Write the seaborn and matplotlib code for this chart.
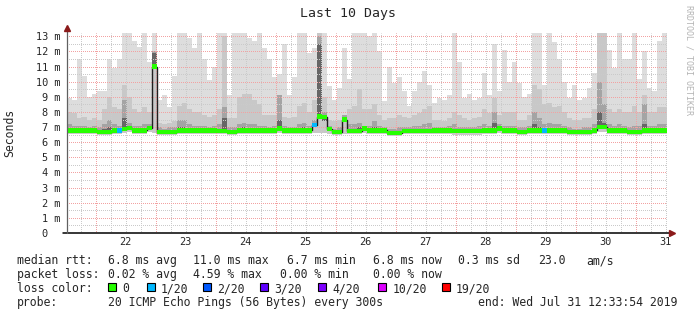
import numpy as np
import pandas as pd
import matplotlib
matplotlib.use("Agg")
import matplotlib.pyplot as plt
from matplotlib.ticker import MultipleLocator
from matplotlib.patches import Rectangle
import seaborn as sns

# ---------------- data (2-hour bins) ----------------
end_time = "2019-07-31 12:33:54"
span_days = 10

ping_max = [
    8.9, 8.8, 11.5, 10.4, 9.0, 9.2, 9.4, 9.4, 11.5, 10.9,
    11.5, 13.2, 13.2, 12.7, 12.3, 13.2, 11.3, 13.2, 8.8, 9.1,
    8.3, 10.4, 13.2, 13.2, 12.9, 12.2, 13.2, 11.5, 10.1, 11.0,
    13.2, 13.2, 9.1, 13.2, 13.2, 13.2, 12.9, 12.7, 13.2, 12.2,
    11.5, 10.3, 10.5, 12.5, 9.1, 10.3, 13.2, 13.2, 11.9, 12.2,
    13.2, 13.2, 9.7, 8.8, 9.6, 12.2, 10.2, 13.2, 13.2, 13.2,
    13.0, 13.2, 12.0, 8.7, 11.0, 9.9, 10.3, 9.4, 8.4, 9.4,
    10.0, 10.7, 9.8, 8.6, 8.9, 8.8, 9.1, 13.2, 11.3, 8.9,
    9.2, 8.8, 8.9, 10.6, 9.1, 12.5, 9.4, 12.1, 10.0, 11.3,
    9.9, 9.0, 9.2, 13.2, 13.2, 9.8, 13.2, 12.6, 11.5, 10.0,
    8.9, 9.8, 8.8, 8.9, 9.6, 10.6, 13.2, 13.2, 12.1, 10.9,
    13.2, 11.5, 11.5, 13.2, 10.2, 12.0, 9.6, 9.4, 12.7, 13.2,
]

ping_p90 = [
    8.0, 7.9, 7.6, 7.7, 7.5, 7.6, 7.5, 8.2, 9.0, 8.3,
    8.2, 9.8, 9.0, 8.2, 8.0, 8.3, 8.0, 12.0, 7.3, 7.2,
    7.3, 7.4, 8.4, 8.6, 8.2, 8.0, 8.0, 7.8, 7.7, 7.8,
    8.2, 13.0, 7.6, 7.6, 9.0, 9.2, 9.2, 8.8, 8.5, 7.8,
    7.8, 7.8, 9.1, 7.7, 7.6, 7.7, 8.4, 8.6, 8.0, 8.8,
    13.2, 9.0, 7.5, 7.4, 7.5, 7.8, 8.2, 8.4, 9.5, 8.2,
    8.2, 8.5, 7.8, 7.5, 7.6, 7.6, 7.8, 7.7, 7.6, 7.8,
    7.9, 8.2, 8.4, 7.5, 7.5, 7.4, 7.6, 8.0, 7.8, 7.6,
    7.5, 7.6, 7.7, 8.2, 7.9, 8.9, 7.8, 8.0, 8.0, 8.0,
    7.5, 7.5, 7.8, 9.8, 9.5, 8.5, 8.6, 8.3, 8.4, 8.0,
    7.6, 7.5, 7.5, 7.6, 7.6, 8.2, 13.2, 13.2, 8.2, 8.0,
    8.2, 8.0, 8.0, 8.4, 8.0, 9.1, 8.0, 8.0, 8.3, 8.3,
]

ping_p75 = [
    7.2, 7.1, 7.1, 7.1, 7.0, 7.1, 7.0, 7.2, 7.5, 7.2,
    7.1, 8.8, 7.3, 7.1, 7.1, 7.2, 7.2, 12.0, 7.0, 6.9,
    7.0, 7.0, 7.5, 7.5, 7.2, 7.1, 7.1, 7.1, 7.0, 7.1,
    7.2, 8.3, 7.0, 7.0, 7.2, 7.3, 7.2, 7.2, 7.1, 7.1,
    7.0, 7.1, 9.1, 7.1, 7.0, 7.0, 7.2, 7.3, 7.1, 7.5,
    13.0, 8.0, 7.1, 6.9, 7.0, 7.8, 7.2, 7.2, 7.3, 7.1,
    7.1, 7.4, 7.1, 7.0, 6.9, 6.9, 7.0, 7.0, 7.0, 7.1,
    7.1, 7.2, 7.3, 7.0, 7.0, 7.0, 7.1, 7.2, 7.0, 7.0,
    7.0, 7.0, 7.1, 7.2, 7.1, 8.0, 7.2, 7.1, 7.1, 7.1,
    7.0, 7.0, 7.1, 8.0, 7.6, 7.2, 7.3, 7.2, 7.2, 7.1,
    7.0, 6.9, 6.9, 7.0, 7.0, 7.2, 10.0, 8.5, 7.2, 7.1,
    7.2, 7.1, 7.0, 7.1, 7.1, 8.5, 7.1, 7.1, 7.2, 7.2,
]

ping_p60 = [
    6.9, 6.9, 6.9, 6.9, 6.9, 6.9, 6.8, 6.9, 7.0, 6.9,
    6.9, 7.6, 7.0, 6.9, 6.9, 6.9, 7.0, 11.9, 6.8, 6.8,
    6.8, 6.8, 7.0, 7.0, 6.9, 6.9, 6.9, 6.9, 6.9, 6.9,
    6.9, 7.6, 6.8, 6.8, 6.9, 7.0, 6.9, 6.9, 6.9, 6.9,
    6.9, 6.9, 7.5, 6.9, 6.9, 6.9, 6.9, 7.0, 6.9, 7.2,
    12.5, 7.4, 6.9, 6.8, 6.8, 7.5, 6.9, 6.9, 7.0, 6.9,
    6.9, 7.0, 6.9, 6.9, 6.7, 6.7, 6.7, 6.8, 6.8, 6.8,
    6.8, 6.9, 6.9, 6.9, 6.9, 6.9, 6.9, 6.9, 6.8, 6.8,
    6.8, 6.8, 6.8, 6.9, 6.9, 7.3, 7.0, 6.9, 6.9, 6.9,
    6.8, 6.8, 6.9, 7.2, 7.0, 6.9, 6.9, 6.9, 6.9, 6.9,
    6.8, 6.8, 6.8, 6.8, 6.8, 6.9, 8.0, 7.3, 6.9, 6.9,
    6.9, 6.9, 6.8, 6.8, 6.8, 7.2, 6.9, 6.9, 6.9, 6.9,
]

ping_min = [
    6.55, 6.55, 6.55, 6.55, 6.55, 6.55, 6.47, 6.47, 6.47, 6.55,
    6.55, 6.6, 6.65, 6.55, 6.55, 6.55, 6.65, 6.6, 6.45, 6.45,
    6.45, 6.45, 6.55, 6.55, 6.55, 6.55, 6.55, 6.55, 6.55, 6.55,
    6.53, 6.53, 6.45, 6.45, 6.55, 6.55, 6.55, 6.55, 6.55, 6.55,
    6.55, 6.55, 6.6, 6.55, 6.55, 6.55, 6.55, 6.55, 6.55, 6.6,
    6.6, 6.6, 6.55, 6.45, 6.45, 6.55, 6.53, 6.53, 6.53, 6.6,
    6.55, 6.55, 6.55, 6.55, 6.42, 6.42, 6.42, 6.52, 6.52, 6.52,
    6.52, 6.52, 6.52, 6.55, 6.55, 6.55, 6.55, 6.5, 6.5, 6.5,
    6.5, 6.5, 6.5, 6.55, 6.55, 6.55, 6.6, 6.55, 6.55, 6.55,
    6.45, 6.45, 6.55, 6.55, 6.55, 6.55, 6.55, 6.55, 6.55, 6.55,
    6.45, 6.45, 6.45, 6.45, 6.45, 6.55, 6.7, 6.7, 6.55, 6.55,
    6.55, 6.55, 6.45, 6.45, 6.45, 6.55, 6.55, 6.55, 6.55, 6.55,
]

median_rtt = [
    6.78, 6.78, 6.78, 6.78, 6.78, 6.78, 6.70, 6.70, 6.70, 6.78,
    6.78, 6.85, 6.92, 6.78, 6.78, 6.78, 6.95, 11.0, 6.68, 6.68,
    6.68, 6.68, 6.78, 6.78, 6.78, 6.78, 6.78, 6.78, 6.78, 6.78,
    6.75, 6.75, 6.67, 6.67, 6.78, 6.78, 6.78, 6.78, 6.78, 6.78,
    6.78, 6.78, 6.90, 6.78, 6.78, 6.78, 6.78, 6.78, 6.78, 7.15,
    7.70, 7.65, 6.85, 6.67, 6.67, 7.50, 6.76, 6.76, 6.76, 6.90,
    6.78, 6.78, 6.78, 6.78, 6.62, 6.62, 6.62, 6.75, 6.75, 6.75,
    6.75, 6.75, 6.75, 6.78, 6.78, 6.78, 6.78, 6.72, 6.72, 6.72,
    6.72, 6.72, 6.72, 6.78, 6.78, 6.78, 6.90, 6.78, 6.78, 6.78,
    6.67, 6.67, 6.78, 6.78, 6.78, 6.78, 6.78, 6.78, 6.78, 6.78,
    6.67, 6.67, 6.67, 6.67, 6.67, 6.78, 7.00, 7.00, 6.78, 6.78,
    6.78, 6.78, 6.67, 6.67, 6.67, 6.78, 6.78, 6.78, 6.78, 6.78,
]

loss_count = [
    0, 0, 0, 0, 0, 0, 0, 0, 0, 0,
    1, 0, 0, 0, 0, 0, 0, 0, 0, 0,
    0, 0, 0, 0, 0, 0, 0, 0, 0, 0,
    0, 0, 0, 0, 0, 0, 0, 0, 0, 0,
    0, 0, 0, 0, 0, 0, 0, 0, 0, 1,
    0, 0, 0, 0, 0, 0, 0, 0, 0, 0,
    0, 0, 0, 0, 0, 0, 0, 0, 0, 0,
    0, 0, 0, 0, 0, 0, 0, 0, 0, 0,
    0, 0, 0, 0, 0, 0, 0, 0, 0, 0,
    0, 0, 0, 0, 0, 1, 0, 0, 0, 0,
    0, 0, 0, 0, 0, 0, 0, 0, 0, 0,
    0, 0, 0, 0, 0, 0, 0, 0, 0, 0,
]

loss_labels = ["0", "1/20", "2/20", "3/20", "4/20", "10/20", "19/20"]
loss_thresholds = [0, 1, 2, 3, 4, 10, 19]
loss_colors = ["#26ff00", "#00b8ff", "#0059ff", "#5e00ff", "#7e00ff", "#dd00ff", "#ff0000"]

y_tick_values = list(range(0, 14))
y_tick_labels = ["0  "] + [f"{v} m" for v in range(1, 14)]
day_labels = list(range(22, 32))

stats_rtt = [("median rtt:", 17), ("6.8 ms avg", 108.3), ("11.0 ms max", 193.3),
             ("6.7 ms min", 286.7), ("6.8 ms now", 373.3), ("0.3 ms sd", 458.3),
             ("23.0", 537.7), ("am/s", 586.7)]
stats_loss = [("packet loss:", 17), ("0.02 % avg", 108.3), ("4.59 % max", 193.3),
              ("0.00 % min", 280.0), ("0.00 % now", 373.3)]
probe_line = [("probe:", 17), ("20 ICMP Echo Pings (56 Bytes) every 300s", 108.3),
              ("end: Wed Jul 31 12:33:54 2019", 478.3)]
legend_box_x = [108.3, 146.7, 203.3, 260.0, 318.3, 378.3, 441.7]

# ---------------- derived x positions ----------------
end_ts = pd.Timestamp(end_time)
start_ts = end_ts - pd.Timedelta(days=span_days)
n = len(ping_max)
edges_ts = pd.date_range(start_ts, end_ts, periods=n + 1)
edges = np.array([t.day + (t - t.normalize()) / pd.Timedelta(days=1) for t in edges_ts])
bin_w = edges[1] - edges[0]


def ext(a):
    a = list(a)
    return np.array(a + [a[-1]])


# ---------------- figure ----------------
sns.set_style("white")
plt.rcParams["font.family"] = ["DejaVu Sans Mono"]
W, H = 697, 315
fig = plt.figure(figsize=(W / 100, H / 100), dpi=100)
fig.patch.set_facecolor("white")
ymax = 13.22
ax = fig.add_axes([67 / W, 82 / H, 600 / W, 200 / H])
ax.set_facecolor("white")

ax.fill_between(edges, ext(ping_min), ext(ping_max), step="post", color="#dddddd", lw=0, zorder=1)
ax.fill_between(edges, ext(ping_min), ext(ping_p90), step="post", color="#c8c8c8", lw=0, zorder=1.1)
ax.fill_between(edges, ext(median_rtt), ext(ping_p75), step="post", color="#a4a4a4", lw=0, zorder=1.2)
ax.fill_between(edges, ext(median_rtt), ext(ping_p60), step="post", color="#666666", lw=0, zorder=1.3)

# black median line
sns.lineplot(x=edges, y=ext(median_rtt), ax=ax, drawstyle="steps-post",
             color="#202020", linewidth=1.0, zorder=3, legend=False, sort=False)


def loss_color(c):
    idx = max(i for i, t in enumerate(loss_thresholds) if c >= t)
    return loss_colors[idx]


band = 0.28
med = np.array(median_rtt)
ax.bar(edges[:-1], band, bottom=med - band / 2, width=bin_w, align="edge",
       color=[loss_color(c) for c in loss_count], linewidth=0, zorder=4)

ax.set_xlim(edges[0], edges[-1])
ax.set_ylim(0, ymax)

# grid: 1 px on / 1 px off dots, phase-shifted half a pixel to sit on pixel boundaries
minor_c = "#cacaca"
major_c = "#f2a2a2"
dot = (0.5, (1, 1))
glw = 0.72
ax.set_axisbelow(False)
ax.xaxis.remove_overlapping_locs = False
ax.xaxis.set_minor_locator(MultipleLocator(0.25))
ax.yaxis.set_minor_locator(MultipleLocator(0.5))
ax.grid(False)
ax.xaxis.grid(True, which="minor", color=minor_c, linestyle=dot, linewidth=glw)
ax.yaxis.grid(True, which="minor", color=minor_c, linestyle=dot, linewidth=glw)
ax.yaxis.grid(True, which="major", color=major_c, linestyle=dot, linewidth=glw)
ax.vlines(day_labels, 0, ymax, colors=major_c, linestyles=[dot], linewidth=glw, zorder=2.6)

ax.set_yticks(y_tick_values)
ax.set_yticklabels(y_tick_labels)
ax.set_xticks([d + 0.5 for d in day_labels])
ax.set_xticklabels([str(d) for d in day_labels])
ax.tick_params(axis="both", which="both", length=0)
ax.tick_params(axis="y", which="major", labelsize=7.4, pad=4.5)
ax.tick_params(axis="x", which="major", labelsize=7.4, pad=3.0)

for s in ax.spines.values():
    s.set_visible(False)

# axes lines and arrows
ax.plot([-0.007, 1.006], [0, 0], transform=ax.transAxes, color="black", lw=1.1,
        clip_on=False, zorder=5)
ax.plot([0, 0], [0, 1.02], transform=ax.transAxes, color="#606060", lw=0.9,
        clip_on=False, zorder=5)
ax.plot([1.008], [0], marker=">", transform=ax.transAxes, color="#8b1a1a",
        markersize=4, clip_on=False, zorder=6, linestyle="none")
ax.plot([0], [1.024], marker="^", transform=ax.transAxes, color="#8b1a1a",
        markersize=4, clip_on=False, zorder=6, linestyle="none")

# texts
def fy(px):
    return 1 - px / H


fig.text(347.5 / W, fy(13), "Last 10 Days", ha="center", va="center", fontsize=9.5)
fig.text(10 / W, fy(133), "Seconds", ha="center", va="center", rotation=90, fontsize=8.3)
fig.text(689 / W, fy(60), "RRDTOOL / TOBI OETIKER", ha="center", va="center",
         rotation=270, fontsize=6, color="#b4b4b4")

fs = 8.32
for txt, x in stats_rtt:
    fig.text(x / W, fy(264), txt, ha="left", va="baseline", fontsize=fs)
for txt, x in stats_loss:
    fig.text(x / W, fy(278), txt, ha="left", va="baseline", fontsize=fs)
fig.text(17 / W, fy(292), "loss color:", ha="left", va="baseline", fontsize=fs)
for bx, lab, col in zip(legend_box_x, loss_labels, loss_colors):
    fig.patches.append(Rectangle((bx / W, fy(291)), 8 / W, 8 / H, transform=fig.transFigure,
                                 facecolor=col, edgecolor="black", linewidth=0.8))
    fig.text((bx + 14) / W, fy(292), lab, ha="left", va="baseline", fontsize=fs)
for txt, x in probe_line:
    fig.text(x / W, fy(306), txt, ha="left", va="baseline", fontsize=fs)

fig.savefig("out.png", dpi=100)
